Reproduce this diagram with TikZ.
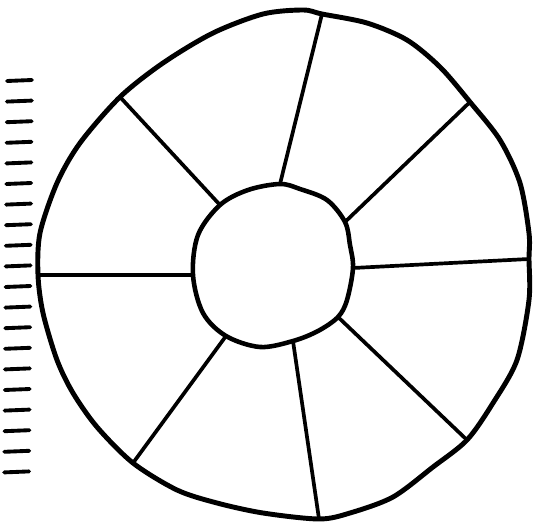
\documentclass[tikz,border=0pt]{standalone}
\usepackage{tikz}
\usetikzlibrary{calc}

\begin{document}
\begin{tikzpicture}[x=0.2mm, y=-0.2mm,
      rim/.style={line width=2.8pt, line join=round},
      hub/.style={line width=2.6pt, line join=round},
      spoke/.style={line width=2.1pt, line cap=round},
      tick/.style={line width=2.2pt, line cap=round}]
      \useasboundingbox (0,0) rectangle (533,526);
      % inner ends of the spokes
      \coordinate (i1) at (280,184); \coordinate (i2) at (345,222); \coordinate (i3) at (353,268);
      \coordinate (i4) at (338,317); \coordinate (i5) at (293,341); \coordinate (i6) at (226,336);
      \coordinate (i7) at (193,275); \coordinate (i8) at (220,205);
      % outer ends of the spokes
      \coordinate (o1) at (322,14); \coordinate (o2) at (470,102); \coordinate (o3) at (529,259);
      \coordinate (o4) at (467,440); \coordinate (o5) at (319,519); \coordinate (o6) at (133,463);
      \coordinate (o7) at (38,275); \coordinate (o8) at (120,97);
      % rim
      \draw[rim] plot[smooth cycle, tension=0.5] coordinates {(o7) (40,233) (57,183) (80,143) (o8) (163,63)
        (213,33) (263,14) (303,10) (o1) (367,23) (407,40) (440,67) (o2) (500,140) (520,183) (529,233) (o3)
        (529,300) (517,360) (493,403) (o4) (433,467) (393,497) (350,513) (o5) (263,513) (217,503)
        (177,490) (o6) (97,427) (73,393) (57,360) (43,313)};
      % hub
      \draw[hub] plot[smooth cycle, tension=0.55] coordinates {(i1) (300,189) (327,200) (i2) (350,245) (i3)
        (347,300) (i4) (318,331) (i5) (260,347) (i6) (203,313) (i7) (198,235) (i8) (248,190)};
      \foreach \k in {1,...,8} \draw[spoke] (i\k) -- (o\k);
      % scale marks
      \foreach \n in {0,...,19} \draw[tick] ($(7,81)+(-0.15*\n,20.6*\n)$) -- ++(25,-1);
    \end{tikzpicture}
\end{document}
